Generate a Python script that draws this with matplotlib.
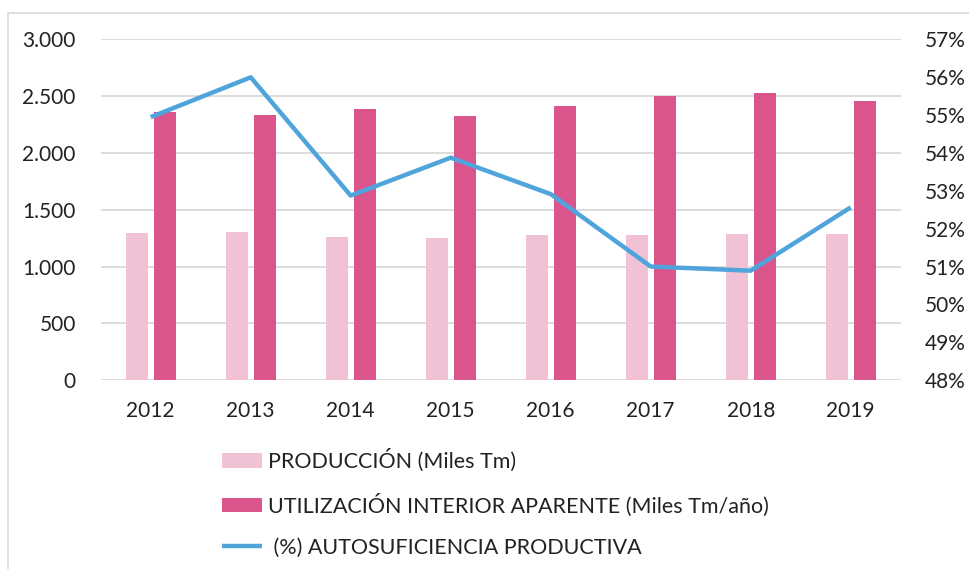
import matplotlib
matplotlib.use("Agg")
import matplotlib.pyplot as plt
import numpy as np
from matplotlib.patches import Rectangle
from matplotlib.ticker import FuncFormatter

plt.rcParams['font.family'] = ['Lato', 'DejaVu Sans']

years = ["2012", "2013", "2014", "2015", "2016", "2017", "2018", "2019"]
produccion = [1295, 1303, 1260, 1251, 1275, 1275, 1286, 1286]
utilizacion = [2361, 2335, 2387, 2326, 2414, 2502, 2523, 2452]
autosuf = [54.94, 55.99, 52.87, 53.87, 52.91, 51.0, 50.89, 52.56]

c_light = "#F1C1D6"
c_dark = "#D9558C"
c_line = "#4FA5DB"
c_grid = "#D9D9D9"

fig = plt.figure(figsize=(9.7, 5.69), dpi=100)
fig.patches.append(Rectangle((8 / 970, -0.1), 1.2, 1 - 13 / 569 + 0.1,
                             transform=fig.transFigure, fill=False,
                             edgecolor=c_grid, linewidth=1.2))

ax = fig.add_axes([100.7 / 970, 1 - 380.3 / 569, 800 / 970, 341.3 / 569])
x = np.arange(len(years))
b1 = ax.bar(x - 0.14, produccion, width=0.22, color=c_light, zorder=2)
b2 = ax.bar(x + 0.14, utilizacion, width=0.22, color=c_dark, zorder=2)
ax.set_xlim(-0.5, len(years) - 0.5)
ax.set_ylim(0, 3000)
ax.set_yticks(np.arange(0, 3001, 500))
ax.yaxis.set_major_formatter(FuncFormatter(lambda v, p: f"{int(v):,}".replace(",", ".")))
ax.set_xticks(x)
ax.set_xticklabels(years)
ax.grid(axis='y', color=c_grid, linewidth=1.3, zorder=0)
for s in ax.spines.values():
    s.set_visible(False)
ax.tick_params(axis='x', length=0, pad=15, labelsize=15, labelcolor="#222222")
ax.tick_params(axis='y', length=0, pad=18, labelsize=15, labelcolor="#222222")

ax2 = ax.twinx()
ln, = ax2.plot(x, autosuf, color=c_line, linewidth=3.2, zorder=3, solid_capstyle='butt')
ax2.set_ylim(48, 57)
ax2.set_yticks(np.arange(48, 58, 1))
ax2.yaxis.set_major_formatter(FuncFormatter(lambda v, p: f"{int(round(v))}%"))
for s in ax2.spines.values():
    s.set_visible(False)
ax2.tick_params(axis='y', length=0, pad=17, labelsize=15, labelcolor="#222222")

fig.legend([b1, b2, ln],
           ["PRODUCCIÓN (Miles Tm)",
            "UTILIZACIÓN INTERIOR APARENTE (Miles Tm/año)",
            " (%) AUTOSUFICIENCIA PRODUCTIVA"],
           loc='upper left', bbox_to_anchor=(222 / 970, 1 - 449 / 569),
           frameon=False, fontsize=15.5, borderpad=0, borderaxespad=0,
           labelspacing=0.98, handlelength=1.86, handleheight=0.65,
           handletextpad=0.3, labelcolor="#222222")

fig.savefig("out.png", dpi=100)
